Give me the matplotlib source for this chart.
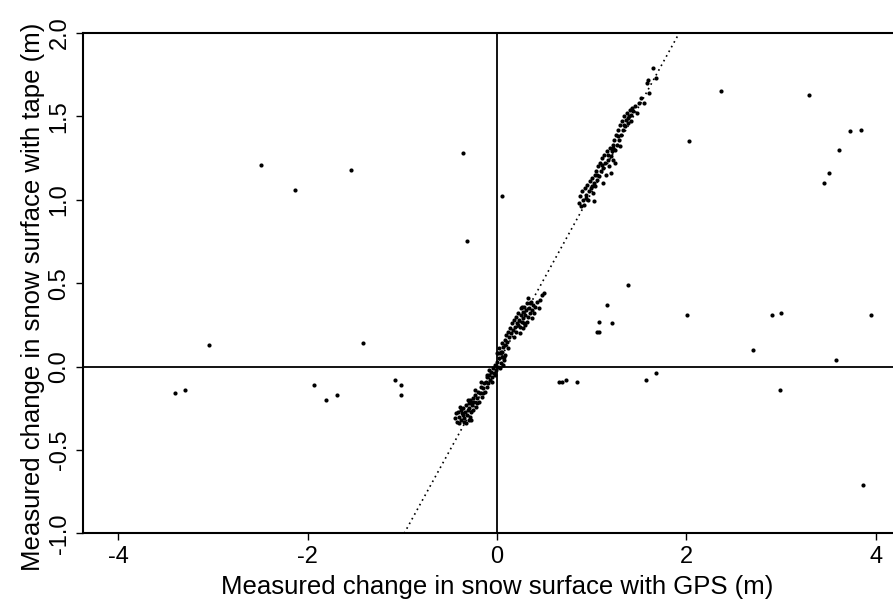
import matplotlib
matplotlib.use("Agg")
import matplotlib.pyplot as plt
import numpy as np

plt.rcParams['font.family'] = ['Liberation Sans', 'DejaVu Sans']

# Outlying points (GPS change, tape change) in m
out_x = [-2.49, -2.13, -1.54, -0.36, -0.32, 0.05, -3.04, -3.40, -3.29, -1.41,
         -1.93, -1.80, -1.69, -1.08, -1.01, -1.01, 0.66, 0.69, 0.73, 0.85,
         2.37, 2.03, 3.29, 3.73, 3.84, 3.61, 3.51, 3.45, 1.38, 1.16, 1.21,
         1.08, 1.06, 1.08, 2.01, 2.90, 3.00, 3.95, 2.70, 3.58, 1.57, 1.68,
         2.99, 3.86]
out_y = [1.21, 1.06, 1.18, 1.28, 0.75, 1.02, 0.13, -0.16, -0.14, 0.14,
         -0.11, -0.20, -0.17, -0.08, -0.11, -0.17, -0.09, -0.09, -0.08, -0.09,
         1.65, 1.35, 1.63, 1.41, 1.42, 1.30, 1.16, 1.10, 0.49, 0.37, 0.26,
         0.27, 0.21, 0.21, 0.31, 0.31, 0.32, 0.31, 0.10, 0.04, -0.08, -0.04,
         -0.14, -0.71]

# Cluster of lowering events
low_x = [-0.44, -0.42, -0.40, -0.41, -0.38, -0.37, -0.36, -0.35, -0.34, -0.33,
         -0.32, -0.31, -0.30, -0.30, -0.29, -0.28, -0.27, -0.26, -0.25, -0.25,
         -0.24, -0.23, -0.22, -0.21, -0.20, -0.19, -0.18, -0.17, -0.16, -0.15,
         -0.14, -0.13, -0.12, -0.11, -0.10, -0.09, -0.08, -0.07, -0.06, -0.05,
         -0.04, -0.03, -0.02, -0.01, 0.00, 0.01, 0.02, 0.03, 0.04, 0.05,
         0.06, 0.07, -0.35, -0.28, -0.39, -0.02, 0.03, 0.08, -0.40, -0.33, -0.27,
         -0.43, -0.36, -0.31, -0.26, -0.21, -0.15, -0.11, -0.05, 0.01, 0.05,
         -0.38, -0.23, -0.17, -0.08]
low_y = [-0.31, -0.33, -0.30, -0.27, -0.32, -0.28, -0.25, -0.31, -0.27, -0.23,
         -0.29, -0.26, -0.22, -0.32, -0.25, -0.20, -0.27, -0.23, -0.19, -0.26,
         -0.21, -0.17, -0.24, -0.19, -0.15, -0.21, -0.16, -0.12, -0.18, -0.13,
         -0.10, -0.15, -0.09, -0.12, -0.06, -0.10, -0.05, -0.08, -0.03, -0.06,
         -0.01, -0.04, 0.01, -0.02, 0.03, 0.00, 0.05, -0.01, 0.02, 0.06,
         0.01, 0.04, -0.33, -0.30, -0.24, -0.05, 0.08, 0.07, -0.34, -0.34, -0.32,
         -0.28, -0.29, -0.20, -0.21, -0.22, -0.16, -0.05, -0.09, 0.08, 0.09,
         -0.26, -0.14, -0.09, -0.02]

# Cluster of small accumulation events
mid_x = [0.00, 0.02, 0.04, 0.05, 0.06, 0.08, 0.09, 0.10, 0.11, 0.12,
         0.13, 0.14, 0.15, 0.16, 0.17, 0.18, 0.19, 0.20, 0.20, 0.21,
         0.22, 0.23, 0.24, 0.25, 0.25, 0.26, 0.27, 0.28, 0.29, 0.30,
         0.30, 0.31, 0.32, 0.33, 0.34, 0.35, 0.36, 0.37, 0.38, 0.39,
         0.40, 0.42, 0.44, 0.45, 0.48, 0.50, 0.24, 0.28, 0.33, 0.18,
         0.22, 0.26, 0.29, 0.32, 0.35, 0.37, 0.07, 0.12]
mid_y = [0.08, 0.11, 0.09, 0.14, 0.12, 0.16, 0.13, 0.19, 0.15, 0.21,
         0.18, 0.23, 0.20, 0.26, 0.22, 0.28, 0.24, 0.30, 0.21, 0.26,
         0.32, 0.28, 0.24, 0.31, 0.35, 0.27, 0.33, 0.29, 0.36, 0.31,
         0.25, 0.34, 0.38, 0.30, 0.35, 0.32, 0.39, 0.34, 0.37, 0.32,
         0.36, 0.39, 0.35, 0.40, 0.43, 0.44, 0.20, 0.23, 0.41, 0.18,
         0.25, 0.36, 0.26, 0.27, 0.38, 0.29, 0.06, 0.11]

# Cluster of large accumulation events
high_x = [0.87, 0.88, 0.89, 0.90, 0.91, 0.92, 0.93, 0.94, 0.95, 0.96,
          0.97, 0.98, 0.99, 1.00, 1.01, 1.02, 1.03, 1.04, 1.05, 1.06,
          1.07, 1.08, 1.09, 1.10, 1.11, 1.12, 1.13, 1.14, 1.15, 1.16,
          1.17, 1.18, 1.19, 1.20, 1.21, 1.22, 1.23, 1.24, 1.25, 1.26,
          1.27, 1.28, 1.29, 1.30, 1.31, 1.32, 1.33, 1.34, 1.35, 1.36,
          1.37, 1.38, 1.39, 1.40, 1.41, 1.42, 1.44, 1.46, 1.48, 1.50,
          1.52, 1.55, 1.58, 1.59, 1.61, 1.65, 1.68, 1.12, 1.20, 1.25,
          1.30, 1.02, 0.94, 1.00, 1.06, 1.11, 1.17, 1.23, 1.28, 1.34,
          1.38, 1.43]
high_y = [0.98, 1.02, 0.96, 1.05, 1.00, 0.97, 1.07, 1.03, 1.09, 1.00,
          1.05, 1.11, 1.07, 1.13, 1.04, 1.10, 1.15, 1.08, 1.17, 1.12,
          1.20, 1.14, 1.22, 1.17, 1.25, 1.19, 1.27, 1.22, 1.15, 1.29,
          1.24, 1.20, 1.31, 1.26, 1.29, 1.33, 1.24, 1.36, 1.30, 1.39,
          1.33, 1.42, 1.36, 1.45, 1.39, 1.47, 1.42, 1.50, 1.44, 1.48,
          1.52, 1.46, 1.50, 1.54, 1.47, 1.51, 1.53, 1.56, 1.52, 1.58,
          1.61, 1.58, 1.70, 1.72, 1.64, 1.79, 1.73, 1.10, 1.16, 1.22,
          1.32, 0.99, 1.01, 1.08, 1.15, 1.21, 1.27, 1.31, 1.38, 1.45,
          1.49, 1.55]

fit_slope = 1.033
fit_intercept = 0.012

x_ticks = [-4, -2, 0, 2, 4]
y_ticks = [-1.0, -0.5, 0.0, 0.5, 1.0, 1.5, 2.0]

fig = plt.figure(figsize=(8.93, 6.11), dpi=100)
ax = fig.add_axes([0.093, 0.127, 0.927, 0.819])

all_x = out_x + low_x + mid_x + high_x
all_y = out_y + low_y + mid_y + high_y
ax.scatter(all_x, all_y, s=9, color='black', linewidths=0, zorder=3)

ax.axhline(0, color='black', lw=1.3, zorder=2)
ax.axvline(0, color='black', lw=1.3, zorder=2)
ax.axline((0, fit_intercept), slope=fit_slope, color='black', lw=1.2,
          ls=(0, (1, 2.2)), zorder=2)

ax.set_xlim(-4.37, 4.37)
ax.set_ylim(-1.0, 2.0)
ax.set_xticks(x_ticks)
ax.set_xticklabels([str(t) for t in x_ticks])
ax.set_yticks(y_ticks)
ax.set_yticklabels([f"{t:.1f}" for t in y_ticks], rotation=90, va='center')

for s in ['left', 'bottom', 'top']:
    ax.spines[s].set_linewidth(1.5)
ax.spines['right'].set_visible(False)
ax.tick_params(direction='out', length=5, width=1, labelsize=17, pad=4)

ax.set_xlabel("Measured change in snow surface with GPS (m)", fontsize=18.5, labelpad=5)
ax.set_ylabel("Measured change in snow surface with tape (m)", fontsize=18.5)
ax.yaxis.set_label_coords(-0.046, 0.472)

fig.savefig("out.png", dpi=100)
